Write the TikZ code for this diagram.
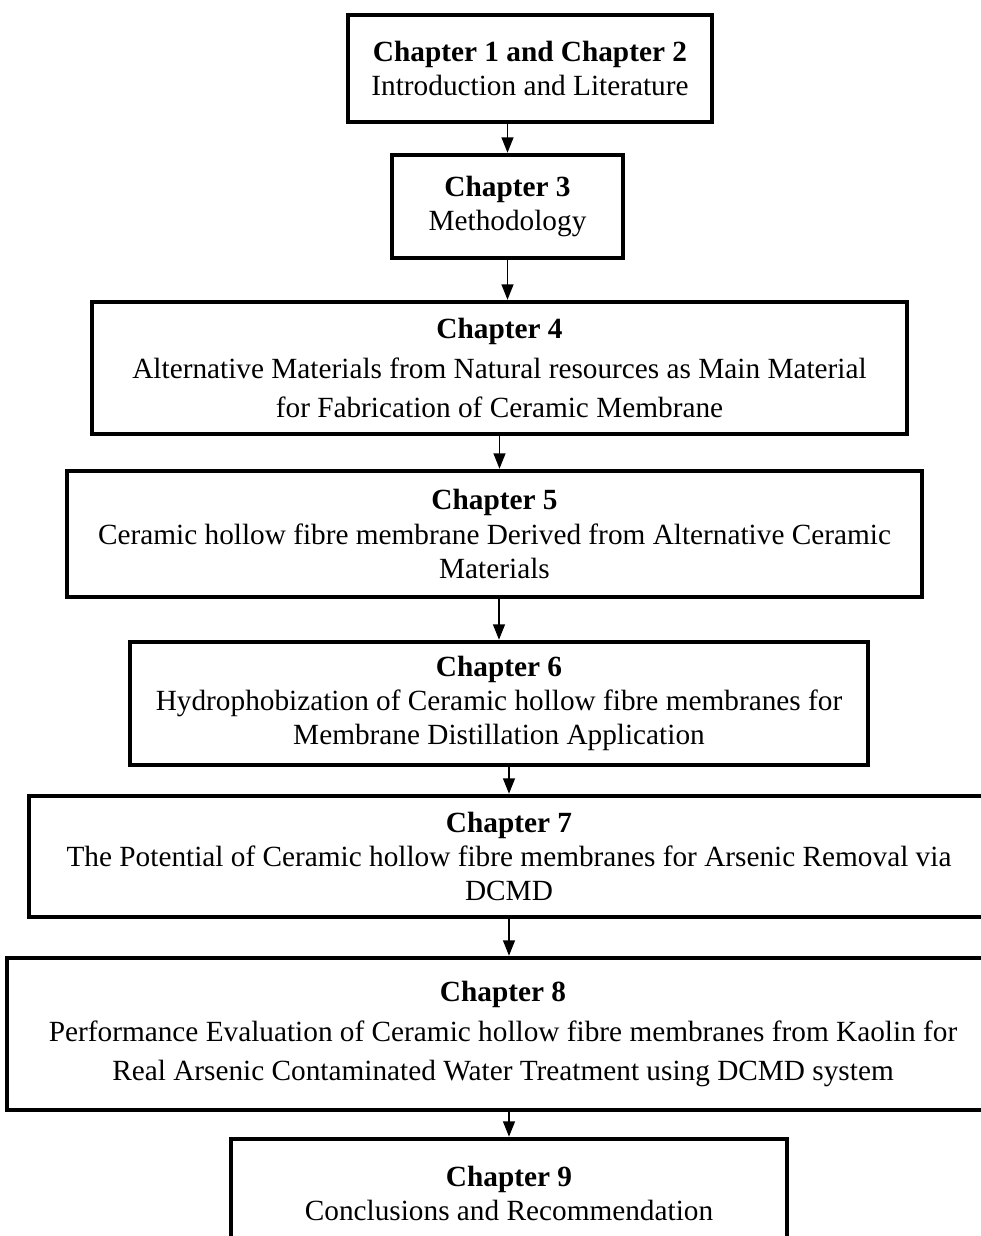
\documentclass[tikz,border=0pt]{standalone}
\usepackage{fontspec}
\setmainfont{Liberation Serif}
\usetikzlibrary{arrows.meta}
\tikzset{
  chbox/.style 2 args={draw=black, line width=1.9pt, fill=white, align=center, inner sep=0pt,
    minimum width={#1*0.42pt}, minimum height={#2*0.42pt},
    font=\fontsize{12.3}{14.3}\selectfont},
  wide/.style={font=\fontsize{12.3}{16.4}\selectfont},
  flow/.style={draw=black, line width=0.75pt, -{Triangle[length=6.5pt,width=5pt]}}
}
\begin{document}
\begin{tikzpicture}[x=0.42pt,y=-0.42pt]
\useasboundingbox (0,0) rectangle (981,1236);
\clip (0,0) rectangle (981,1236);
\fill[white] (0,0) rectangle (981,1236);

\node[chbox={364}{107}] (b1) at (530,68.5)
  {\textbf{Chapter 1 and Chapter 2}\\Introduction and Literature};
\node[chbox={231}{103}] (b2) at (507.5,206.5)
  {\textbf{Chapter 3}\\Methodology};
\node[chbox={815}{132},wide] (b3) at (499.5,368)
  {\textbf{Chapter 4}\\Alternative Materials from Natural resources as Main Material\\for Fabrication of Ceramic Membrane};
\node[chbox={855}{126}] (b4) at (494.5,534)
  {\textbf{Chapter 5}\\Ceramic hollow fibre membrane Derived from Alternative Ceramic\\Materials};
\node[chbox={738}{123}] (b5) at (499,703.5)
  {\textbf{Chapter 6}\\Hydrophobization of Ceramic hollow fibre membranes for\\Membrane Distillation Application};
\node[chbox={960}{121}] (b7) at (509,856.5)
  {\textbf{Chapter 7}\\The Potential of Ceramic hollow fibre membranes for Arsenic Removal via\\DCMD};
\node[chbox={992}{152},wide] (b8) at (503,1034)
  {\textbf{Chapter 8}\\Performance Evaluation of Ceramic hollow fibre membranes from Kaolin for\\Real Arsenic Contaminated Water Treatment using DCMD system};
\node[chbox={556}{108}] (b9) at (509,1193)
  {\textbf{Chapter 9}\\Conclusions and Recommendation};

\draw[flow] (b1.south -| b2.north) -- (b2.north);
\draw[flow] (b2.south) -- (b2.south |- b3.north);
\draw[flow] (b3.south) -- (b3.south |- b4.north);
\draw[flow] (b4.south -| b5.north) -- (b5.north);
\draw[flow] (b5.south -| b7.north) -- (b7.north);
\draw[flow] (b7.south) -- (b7.south |- b8.north);
\draw[flow] (b8.south -| b9.north) -- (b9.north);
\end{tikzpicture}
\end{document}
